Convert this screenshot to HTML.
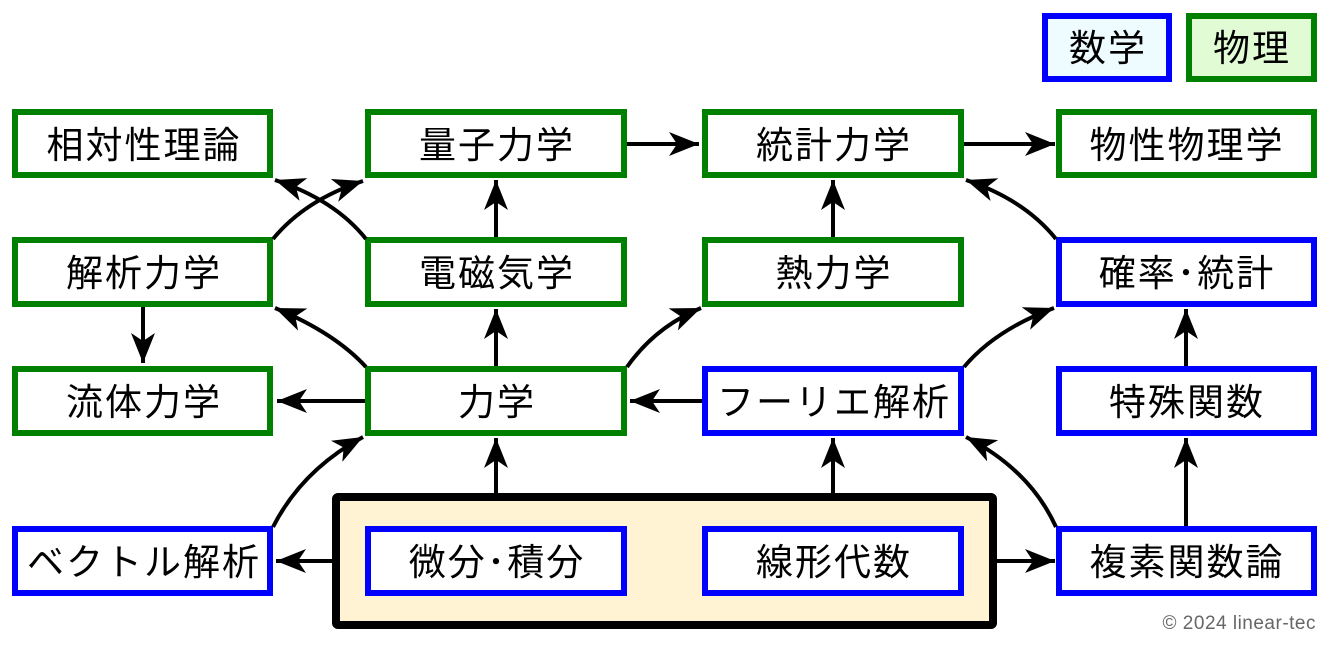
<!DOCTYPE html>
<html><head><meta charset="utf-8"><style>
body{margin:0;background:#fff;}
svg text{font-family:"Liberation Sans","Noto Sans CJK JP",sans-serif;}
</style></head><body>
<svg width="1335" height="646" viewBox="0 0 1335 646" xmlns="http://www.w3.org/2000/svg">
<defs>
<marker id="a" markerUnits="userSpaceOnUse" markerWidth="40" markerHeight="40" refX="30" refY="12" orient="auto">
<path d="M0,0 L30,12 L0,24 L8,12 Z" fill="#000"/>
</marker>
</defs>
<rect x="336" y="497" width="657" height="128" fill="#fff3d3" stroke="#000" stroke-width="8" rx="2"/>
<g stroke-width="6" fill="#fff" rx="2">
<rect x="1045" y="16" width="124" height="63" fill="#eefbff" stroke="#0000ff"/>
<rect x="1189" y="16" width="125" height="63" fill="#e1fcd4" stroke="#008000"/>
<rect x="15" y="112" width="255" height="63" stroke="#008000"/>
<rect x="368" y="112" width="256" height="63" stroke="#008000"/>
<rect x="705" y="112" width="256" height="63" stroke="#008000"/>
<rect x="1059" y="112" width="255" height="63" stroke="#008000"/>
<rect x="15" y="240" width="255" height="64" stroke="#008000"/>
<rect x="368" y="240" width="256" height="64" stroke="#008000"/>
<rect x="705" y="240" width="256" height="64" stroke="#008000"/>
<rect x="1059" y="240" width="255" height="64" stroke="#0000ff"/>
<rect x="15" y="369" width="255" height="64" stroke="#008000"/>
<rect x="368" y="369" width="256" height="64" stroke="#008000"/>
<rect x="705" y="369" width="256" height="64" stroke="#0000ff"/>
<rect x="1059" y="369" width="255" height="64" stroke="#0000ff"/>
<rect x="15" y="529" width="255" height="64" stroke="#0000ff"/>
<rect x="368" y="529" width="256" height="64" stroke="#0000ff"/>
<rect x="705" y="529" width="256" height="64" stroke="#0000ff"/>
<rect x="1059" y="529" width="255" height="64" stroke="#0000ff"/>
</g>
<g stroke="#000" stroke-width="4" fill="none" marker-end="url(#a)">
<path d="M627,144 L699,144"/>
<path d="M964,144 L1055,144"/>
<path d="M496,237 L496,180"/>
<path d="M496,366 L496,309"/>
<path d="M833,237 L833,180"/>
<path d="M143,307 L143,363"/>
<path d="M365,401 L277,401"/>
<path d="M702,401 L630,401"/>
<path d="M1186,366 L1186,309"/>
<path d="M1186,526 L1186,438"/>
<path d="M496,493 L496,438"/>
<path d="M833,493 L833,438"/>
<path d="M332,561 L276,561"/>
<path d="M997,561 L1055,561"/>
<path d="M273,239 Q305,200 363,181"/>
<path d="M366,239 Q335,200 275,180"/>
<path d="M366,367 Q335,333 275,308"/>
<path d="M627,367 Q655,327 701,308"/>
<path d="M964,367 Q995,330 1054,308"/>
<path d="M1056,239 Q1025,200 966,180"/>
<path d="M273,527 Q302,470 363,437"/>
<path d="M1056,527 Q1030,470 966,437"/>
</g>
<g font-size="37" letter-spacing="2" text-anchor="middle" fill="#000">
<text x="1108" y="61">数学</text>
<text x="1252" y="61">物理</text>
<text x="144" y="158">相対性理論</text>
<text x="497" y="158">量子力学</text>
<text x="834" y="158">統計力学</text>
<text x="1187" y="158">物性物理学</text>
<text x="144" y="286">解析力学</text>
<text x="497" y="286">電磁気学</text>
<text x="834" y="286">熱力学</text>
<text x="1187" y="286">確率･統計</text>
<text x="144" y="415">流体力学</text>
<text x="497" y="415">力学</text>
<text x="834" y="415">フーリエ解析</text>
<text x="1187" y="415">特殊関数</text>
<text x="144" y="575">ベクトル解析</text>
<text x="497" y="575">微分･積分</text>
<text x="834" y="575">線形代数</text>
<text x="1187" y="575">複素関数論</text>
</g>
<text x="1316" y="629" font-size="19" letter-spacing="0.5" fill="#666" text-anchor="end">© 2024 linear-tec</text>
</svg>
</body></html>
